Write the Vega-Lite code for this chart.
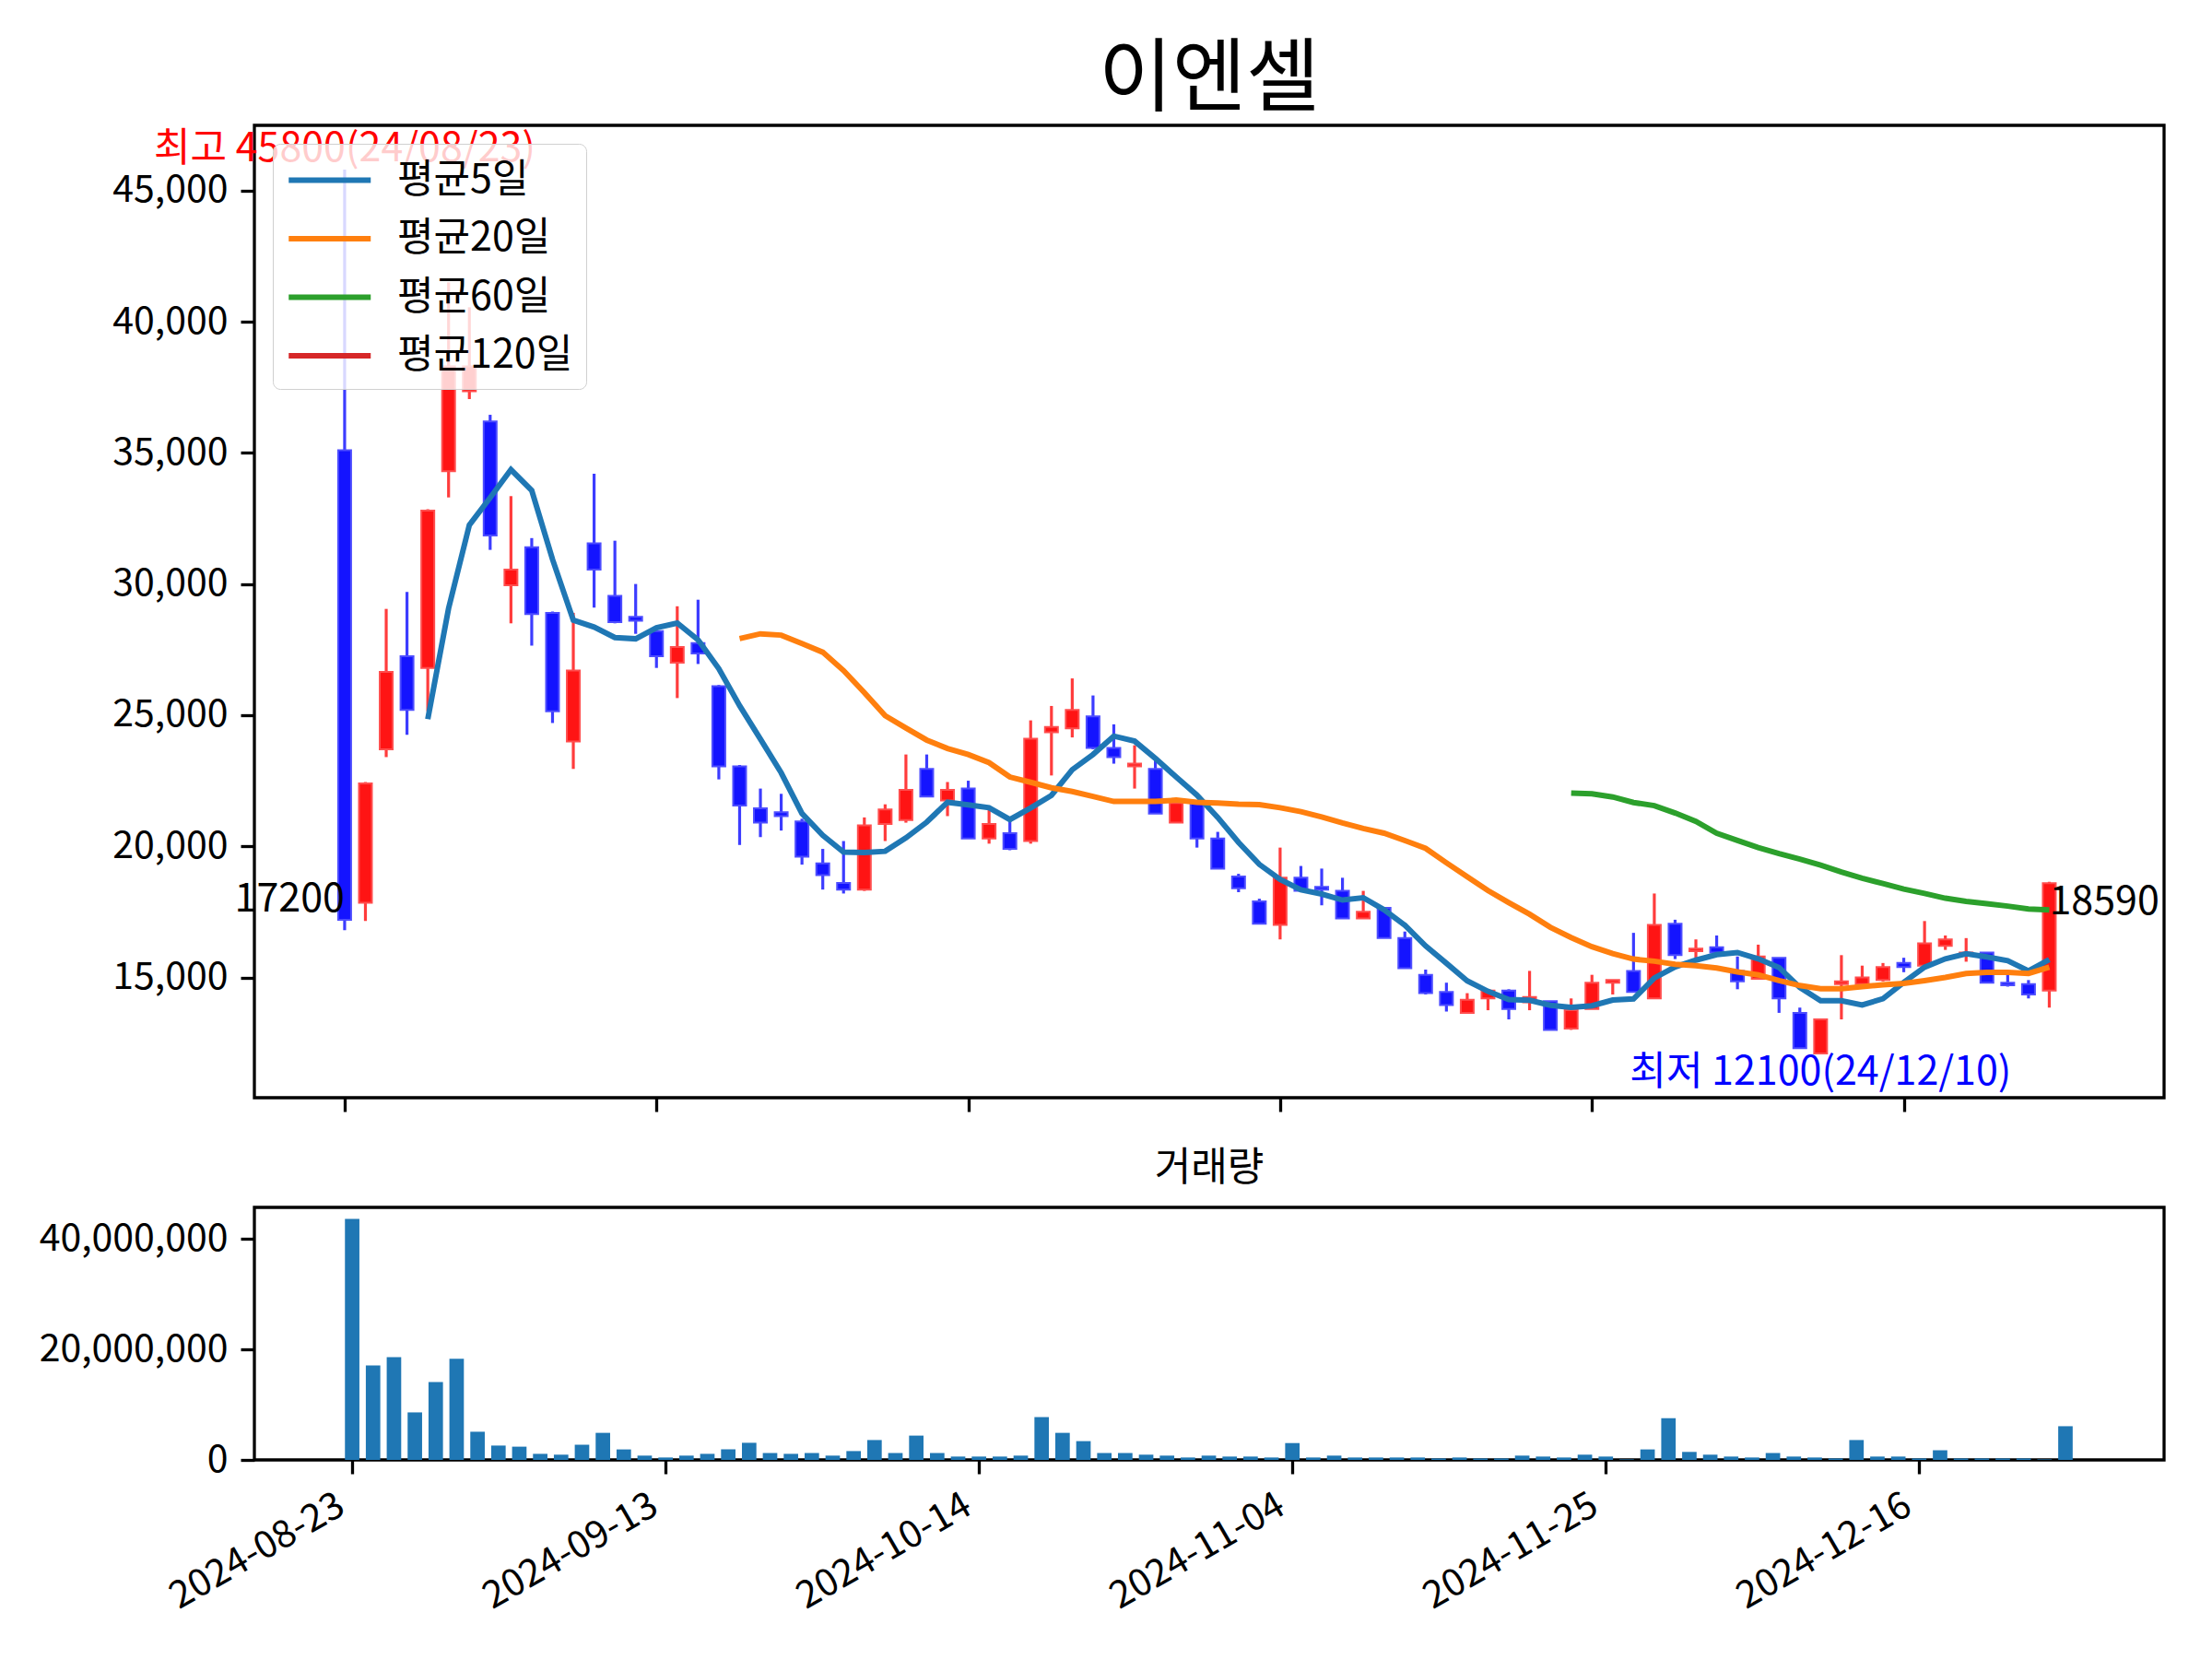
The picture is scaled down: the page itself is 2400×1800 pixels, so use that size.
{
  "$schema": "https://vega.github.io/schema/vega-lite/v6.json",
  "background": "white",
  "padding": {"left": 40, "top": 42, "right": 20, "bottom": 20},
  "config": {
    "font": "Noto Sans CJK KR",
    "view": {"stroke": "black", "strokeWidth": 3.3},
    "axis": {
      "domain": false,
      "grid": false,
      "tickColor": "black",
      "tickSize": 15,
      "tickWidth": 3.3,
      "labelFont": "Noto Sans CJK KR",
      "labelFontSize": 41,
      "labelColor": "black",
      "labelPadding": 14,
      "labelLimit": 500
    },
    "title": {"font": "Noto Sans CJK KR", "fontWeight": "normal", "color": "black", "anchor": "middle", "frame": "group", "baseline": "alphabetic"}
  },
  "datasets": {
    "ohlc": [
      {"i":0,"date":"2024-08-23","open":35100,"high":45800,"low":16800,"close":17200,"volume":43600000,"ma5":null,"ma20":null,"ma60":null},
      {"i":1,"date":"2024-08-26","open":17850,"high":22450,"low":17150,"close":22400,"volume":17100000,"ma5":null,"ma20":null,"ma60":null},
      {"i":2,"date":"2024-08-27","open":23700,"high":29050,"low":23400,"close":26650,"volume":18600000,"ma5":null,"ma20":null,"ma60":null},
      {"i":3,"date":"2024-08-28","open":27250,"high":29700,"low":24250,"close":25200,"volume":8600000,"ma5":null,"ma20":null,"ma60":null},
      {"i":4,"date":"2024-08-29","open":26800,"high":32850,"low":25150,"close":32800,"volume":14100000,"ma5":24850,"ma20":null,"ma60":null},
      {"i":5,"date":"2024-08-30","open":34300,"high":41500,"low":33300,"close":38300,"volume":18300000,"ma5":29070,"ma20":null,"ma60":null},
      {"i":6,"date":"2024-09-02","open":37350,"high":40550,"low":37050,"close":38300,"volume":5100000,"ma5":32250,"ma20":null,"ma60":null},
      {"i":7,"date":"2024-09-03","open":36200,"high":36450,"low":31300,"close":31850,"volume":2600000,"ma5":33290,"ma20":null,"ma60":null},
      {"i":8,"date":"2024-09-04","open":29950,"high":33350,"low":28500,"close":30550,"volume":2400000,"ma5":34360,"ma20":null,"ma60":null},
      {"i":9,"date":"2024-09-05","open":31400,"high":31750,"low":27650,"close":28850,"volume":1100000,"ma5":33570,"ma20":null,"ma60":null},
      {"i":10,"date":"2024-09-06","open":28900,"high":28950,"low":24700,"close":25150,"volume":950000,"ma5":30940,"ma20":null,"ma60":null},
      {"i":11,"date":"2024-09-09","open":24000,"high":28900,"low":22950,"close":26700,"volume":2750000,"ma5":28620,"ma20":null,"ma60":null},
      {"i":12,"date":"2024-09-10","open":31550,"high":34200,"low":29100,"close":30550,"volume":4900000,"ma5":28360,"ma20":null,"ma60":null},
      {"i":13,"date":"2024-09-11","open":29550,"high":31650,"low":28500,"close":28550,"volume":1900000,"ma5":27960,"ma20":null,"ma60":null},
      {"i":14,"date":"2024-09-12","open":28750,"high":30000,"low":28100,"close":28600,"volume":780000,"ma5":27910,"ma20":null,"ma60":null},
      {"i":15,"date":"2024-09-13","open":28200,"high":28250,"low":26800,"close":27250,"volume":440000,"ma5":28330,"ma20":null,"ma60":null},
      {"i":16,"date":"2024-09-19","open":27000,"high":29150,"low":25650,"close":27600,"volume":780000,"ma5":28510,"ma20":null,"ma60":null},
      {"i":17,"date":"2024-09-20","open":27750,"high":29400,"low":26950,"close":27350,"volume":1100000,"ma5":27870,"ma20":null,"ma60":null},
      {"i":18,"date":"2024-09-23","open":26100,"high":26150,"low":22550,"close":23050,"volume":1900000,"ma5":26770,"ma20":null,"ma60":null},
      {"i":19,"date":"2024-09-24","open":23050,"high":23100,"low":20050,"close":21550,"volume":3100000,"ma5":25360,"ma20":27920,"ma60":null},
      {"i":20,"date":"2024-09-25","open":21450,"high":22200,"low":20350,"close":20900,"volume":1250000,"ma5":24090,"ma20":28100,"ma60":null},
      {"i":21,"date":"2024-09-26","open":21300,"high":22000,"low":20600,"close":21150,"volume":1100000,"ma5":22800,"ma20":28050,"ma60":null},
      {"i":22,"date":"2024-09-27","open":20950,"high":21050,"low":19300,"close":19600,"volume":1250000,"ma5":21250,"ma20":27730,"ma60":null},
      {"i":23,"date":"2024-09-30","open":19350,"high":19900,"low":18350,"close":18900,"volume":780000,"ma5":20420,"ma20":27400,"ma60":null},
      {"i":24,"date":"2024-10-02","open":18600,"high":20200,"low":18200,"close":18350,"volume":1600000,"ma5":19780,"ma20":26700,"ma60":null},
      {"i":25,"date":"2024-10-04","open":18350,"high":21100,"low":18300,"close":20800,"volume":3600000,"ma5":19760,"ma20":25860,"ma60":null},
      {"i":26,"date":"2024-10-07","open":20850,"high":21600,"low":20200,"close":21400,"volume":1250000,"ma5":19810,"ma20":24980,"ma60":null},
      {"i":27,"date":"2024-10-08","open":21000,"high":23500,"low":20900,"close":22150,"volume":4400000,"ma5":20320,"ma20":24510,"ma60":null},
      {"i":28,"date":"2024-10-10","open":22950,"high":23500,"low":21900,"close":21900,"volume":1250000,"ma5":20920,"ma20":24050,"ma60":null},
      {"i":29,"date":"2024-10-11","open":21750,"high":22450,"low":21150,"close":22150,"volume":610000,"ma5":21680,"ma20":23730,"ma60":null},
      {"i":30,"date":"2024-10-14","open":22200,"high":22500,"low":20300,"close":20300,"volume":610000,"ma5":21580,"ma20":23500,"ma60":null},
      {"i":31,"date":"2024-10-15","open":20300,"high":21400,"low":20100,"close":20850,"volume":610000,"ma5":21470,"ma20":23190,"ma60":null},
      {"i":32,"date":"2024-10-16","open":20500,"high":20950,"low":19850,"close":19900,"volume":780000,"ma5":21020,"ma20":22640,"ma60":null},
      {"i":33,"date":"2024-10-17","open":20200,"high":24800,"low":20100,"close":24100,"volume":7750000,"ma5":21460,"ma20":22440,"ma60":null},
      {"i":34,"date":"2024-10-18","open":24350,"high":25350,"low":22700,"close":24550,"volume":4900000,"ma5":21940,"ma20":22230,"ma60":null},
      {"i":35,"date":"2024-10-21","open":24500,"high":26400,"low":24150,"close":25200,"volume":3400000,"ma5":22920,"ma20":22090,"ma60":null},
      {"i":36,"date":"2024-10-22","open":24950,"high":25750,"low":23700,"close":23750,"volume":1250000,"ma5":23500,"ma20":21900,"ma60":null},
      {"i":37,"date":"2024-10-23","open":23750,"high":24650,"low":23150,"close":23400,"volume":1250000,"ma5":24200,"ma20":21710,"ma60":null},
      {"i":38,"date":"2024-10-24","open":23050,"high":23850,"low":22200,"close":23150,"volume":950000,"ma5":24010,"ma20":21710,"ma60":null},
      {"i":39,"date":"2024-10-25","open":22950,"high":23300,"low":21250,"close":21250,"volume":780000,"ma5":23350,"ma20":21710,"ma60":null},
      {"i":40,"date":"2024-10-28","open":20900,"high":21800,"low":20900,"close":21650,"volume":440000,"ma5":22640,"ma20":21760,"ma60":null},
      {"i":41,"date":"2024-10-29","open":21650,"high":21650,"low":19950,"close":20300,"volume":780000,"ma5":21950,"ma20":21680,"ma60":null},
      {"i":42,"date":"2024-10-30","open":20300,"high":20550,"low":19150,"close":19150,"volume":610000,"ma5":21100,"ma20":21650,"ma60":null},
      {"i":43,"date":"2024-10-31","open":18850,"high":18950,"low":18250,"close":18400,"volume":610000,"ma5":20150,"ma20":21610,"ma60":null},
      {"i":44,"date":"2024-11-01","open":17900,"high":18000,"low":17050,"close":17050,"volume":440000,"ma5":19310,"ma20":21590,"ma60":null},
      {"i":45,"date":"2024-11-04","open":17000,"high":19950,"low":16450,"close":18800,"volume":3050000,"ma5":18740,"ma20":21470,"ma60":null},
      {"i":46,"date":"2024-11-05","open":18800,"high":19250,"low":18300,"close":18300,"volume":440000,"ma5":18340,"ma20":21320,"ma60":null},
      {"i":47,"date":"2024-11-06","open":18450,"high":19150,"low":17750,"close":18350,"volume":780000,"ma5":18180,"ma20":21120,"ma60":null},
      {"i":48,"date":"2024-11-07","open":18300,"high":18800,"low":17250,"close":17250,"volume":440000,"ma5":17950,"ma20":20890,"ma60":null},
      {"i":49,"date":"2024-11-08","open":17250,"high":18300,"low":17250,"close":17500,"volume":440000,"ma5":18040,"ma20":20680,"ma60":null},
      {"i":50,"date":"2024-11-11","open":17650,"high":17650,"low":16500,"close":16500,"volume":440000,"ma5":17580,"ma20":20500,"ma60":null},
      {"i":51,"date":"2024-11-12","open":16500,"high":16750,"low":15350,"close":15350,"volume":440000,"ma5":16990,"ma20":20220,"ma60":null},
      {"i":52,"date":"2024-11-13","open":15100,"high":15300,"low":14350,"close":14400,"volume":270000,"ma5":16200,"ma20":19920,"ma60":null},
      {"i":53,"date":"2024-11-14","open":14450,"high":14800,"low":13700,"close":13950,"volume":440000,"ma5":15540,"ma20":19370,"ma60":null},
      {"i":54,"date":"2024-11-15","open":13650,"high":14400,"low":13650,"close":14150,"volume":270000,"ma5":14870,"ma20":18840,"ma60":null},
      {"i":55,"date":"2024-11-18","open":14200,"high":14500,"low":13750,"close":14500,"volume":270000,"ma5":14470,"ma20":18310,"ma60":null},
      {"i":56,"date":"2024-11-19","open":14500,"high":14550,"low":13400,"close":13800,"volume":780000,"ma5":14160,"ma20":17850,"ma60":null},
      {"i":57,"date":"2024-11-20","open":14050,"high":15250,"low":13750,"close":14250,"volume":610000,"ma5":14130,"ma20":17410,"ma60":null},
      {"i":58,"date":"2024-11-21","open":14100,"high":14100,"low":13000,"close":13000,"volume":440000,"ma5":13940,"ma20":16910,"ma60":null},
      {"i":59,"date":"2024-11-22","open":13050,"high":14200,"low":13000,"close":13750,"volume":950000,"ma5":13860,"ma20":16520,"ma60":22030},
      {"i":60,"date":"2024-11-25","open":13800,"high":15100,"low":13800,"close":14800,"volume":610000,"ma5":13920,"ma20":16170,"ma60":22000},
      {"i":61,"date":"2024-11-26","open":14800,"high":14900,"low":14350,"close":14900,"volume":100000,"ma5":14140,"ma20":15910,"ma60":21880},
      {"i":62,"date":"2024-11-27","open":15250,"high":16700,"low":14450,"close":14450,"volume":1900000,"ma5":14180,"ma20":15700,"ma60":21670},
      {"i":63,"date":"2024-11-28","open":14200,"high":18200,"low":14200,"close":17000,"volume":7550000,"ma5":14980,"ma20":15620,"ma60":21550},
      {"i":64,"date":"2024-11-29","open":17050,"high":17200,"low":15700,"close":15850,"volume":1450000,"ma5":15400,"ma20":15500,"ma60":21270},
      {"i":65,"date":"2024-12-02","open":16000,"high":16450,"low":15750,"close":16100,"volume":950000,"ma5":15660,"ma20":15450,"ma60":20950},
      {"i":66,"date":"2024-12-03","open":16150,"high":16600,"low":15950,"close":15950,"volume":610000,"ma5":15870,"ma20":15360,"ma60":20500},
      {"i":67,"date":"2024-12-04","open":15250,"high":15800,"low":14550,"close":14850,"volume":440000,"ma5":15950,"ma20":15210,"ma60":20220},
      {"i":68,"date":"2024-12-05","open":14950,"high":16250,"low":14950,"close":15800,"volume":1250000,"ma5":15710,"ma20":15100,"ma60":19950},
      {"i":69,"date":"2024-12-06","open":15750,"high":15750,"low":13650,"close":14200,"volume":610000,"ma5":15380,"ma20":14880,"ma60":19720},
      {"i":70,"date":"2024-12-09","open":13650,"high":13850,"low":12300,"close":12300,"volume":440000,"ma5":14620,"ma20":14690,"ma60":19510},
      {"i":71,"date":"2024-12-10","open":12100,"high":13400,"low":12100,"close":13400,"volume":270000,"ma5":14110,"ma20":14570,"ma60":19280},
      {"i":72,"date":"2024-12-11","open":14750,"high":15850,"low":13400,"close":14850,"volume":3600000,"ma5":14110,"ma20":14570,"ma60":19020},
      {"i":73,"date":"2024-12-12","open":14750,"high":15450,"low":14750,"close":15000,"volume":610000,"ma5":13950,"ma20":14650,"ma60":18780},
      {"i":74,"date":"2024-12-13","open":14900,"high":15550,"low":14850,"close":15400,"volume":610000,"ma5":14190,"ma20":14720,"ma60":18580},
      {"i":75,"date":"2024-12-16","open":15550,"high":15750,"low":15200,"close":15400,"volume":270000,"ma5":14810,"ma20":14770,"ma60":18370},
      {"i":76,"date":"2024-12-17","open":15450,"high":17150,"low":15450,"close":16300,"volume":1750000,"ma5":15390,"ma20":14880,"ma60":18200},
      {"i":77,"date":"2024-12-18","open":16200,"high":16600,"low":16050,"close":16450,"volume":270000,"ma5":15710,"ma20":15000,"ma60":18020},
      {"i":78,"date":"2024-12-19","open":15850,"high":16500,"low":15600,"close":15950,"volume":270000,"ma5":15900,"ma20":15150,"ma60":17900},
      {"i":79,"date":"2024-12-20","open":15950,"high":15950,"low":14800,"close":14800,"volume":270000,"ma5":15780,"ma20":15190,"ma60":17810},
      {"i":80,"date":"2024-12-23","open":14800,"high":15250,"low":14650,"close":14700,"volume":270000,"ma5":15640,"ma20":15190,"ma60":17720},
      {"i":81,"date":"2024-12-24","open":14750,"high":14900,"low":14200,"close":14350,"volume":100000,"ma5":15250,"ma20":15150,"ma60":17610},
      {"i":82,"date":"2024-12-26","open":14500,"high":18650,"low":13850,"close":18590,"volume":6100000,"ma5":15680,"ma20":15390,"ma60":17575}
    ],
    "notes": [
      {"i":0,"price":45800,"label":"최고 45800(24/08/23)","kind":"high"},
      {"i":71,"price":12100,"label":"최저 12100(24/12/10)","kind":"low"},
      {"i":0,"price":17200,"label":"17200","kind":"first"},
      {"i":82,"price":18590,"label":"18590","kind":"last"}
    ]
  },
  "spacing": 35,
  "vconcat": [
    {
      "width": 2072,
      "height": 1055,
      "title": {"text": "이엔셀", "fontSize": 87, "offset": 4},
      "data": {"name": "ohlc"},
      "encoding": {
        "x": {
          "field": "i",
          "type": "quantitative",
          "scale": {"domain": [-4.12, 87.3], "nice": false, "zero": false},
          "axis": {"values": [0, 15, 30, 45, 60, 75], "labels": false, "title": null}
        }
      },
      "layer": [
        {
          "mark": {"type": "rule", "strokeWidth": 3.2},
          "encoding": {
            "y": {
              "field": "low",
              "type": "quantitative",
              "scale": {"domain": [10415, 47485], "nice": false, "zero": false},
              "axis": {"values": [15000, 20000, 25000, 30000, 35000, 40000, 45000], "format": ",d", "title": null}
            },
            "y2": {"field": "high"},
            "color": {"condition": {"test": "datum.close >= datum.open", "value": "#ff3c3c"}, "value": "#3c3cff"}
          }
        },
        {
          "mark": {"type": "bar", "size": 14, "strokeWidth": 2},
          "encoding": {
            "y": {"field": "open", "type": "quantitative"},
            "y2": {"field": "close"},
            "fill": {"condition": {"test": "datum.close >= datum.open", "value": "#ff1414"}, "value": "#1414ff"},
            "stroke": {"condition": {"test": "datum.close >= datum.open", "value": "#ff4d4d"}, "value": "#4d4dff"}
          }
        },
        {
          "transform": [
            {"fold": ["ma5", "ma20", "ma60"], "as": ["series", "ma"]},
            {"filter": "isValid(datum.ma)"}
          ],
          "mark": {"type": "line", "strokeWidth": 6},
          "encoding": {
            "y": {"field": "ma", "type": "quantitative"},
            "color": {
              "field": "series",
              "type": "nominal",
              "scale": {"domain": ["ma5", "ma20", "ma60", "ma120"], "range": ["#1f77b4", "#ff7f0e", "#2ca02c", "#d62728"]},
              "legend": {
                "orient": "top-left",
                "offset": 20,
                "title": null,
                "symbolType": "M-1,0H3",
                "symbolSize": 1980,
                "symbolStrokeWidth": 6,
                "labelFontSize": 43,
                "labelColor": "black",
                "labelLimit": 400,
                "labelOffset": 70,
                "padding": 14,
                "rowPadding": 15.5,
                "fillColor": "rgba(255,255,255,0.8)",
                "strokeColor": "#d0d0d0",
                "cornerRadius": 8,
                "labelExpr": "datum.label == 'ma5' ? '평균5일' : datum.label == 'ma20' ? '평균20일' : datum.label == 'ma60' ? '평균60일' : '평균120일'"
              }
            }
          }
        },
        {
          "data": {"name": "notes"},
          "transform": [{"filter": "datum.kind == 'high'"}],
          "mark": {"type": "text", "color": "red", "fontSize": 43, "align": "center", "baseline": "bottom"},
          "encoding": {"y": {"field": "price", "type": "quantitative"}, "text": {"field": "label"}}
        },
        {
          "data": {"name": "notes"},
          "transform": [{"filter": "datum.kind == 'low'"}],
          "mark": {"type": "text", "color": "blue", "fontSize": 43, "align": "center", "baseline": "top"},
          "encoding": {"y": {"field": "price", "type": "quantitative"}, "text": {"field": "label"}}
        },
        {
          "data": {"name": "notes"},
          "transform": [{"filter": "datum.kind == 'first'"}],
          "mark": {"type": "text", "color": "black", "fontSize": 43, "align": "right", "baseline": "bottom"},
          "encoding": {"y": {"field": "price", "type": "quantitative"}, "text": {"field": "label"}}
        },
        {
          "data": {"name": "notes"},
          "transform": [{"filter": "datum.kind == 'last'"}],
          "mark": {"type": "text", "color": "black", "fontSize": 43, "align": "left", "baseline": "top"},
          "encoding": {"y": {"field": "price", "type": "quantitative"}, "text": {"field": "label"}}
        }
      ]
    },
    {
      "width": 2072,
      "height": 274,
      "title": {"text": "거래량", "fontSize": 43, "offset": 20},
      "data": {"name": "ohlc"},
      "mark": {"type": "bar", "size": 15.7, "color": "#1f77b4"},
      "encoding": {
        "x": {
          "field": "i",
          "type": "quantitative",
          "scale": {"domain": [-4.46, 86.5], "nice": false, "zero": false},
          "axis": {
            "values": [0, 15, 30, 45, 60, 75],
            "title": null,
            "labelAngle": -30,
            "labelAlign": "right",
            "labelBaseline": "top",
            "labelOffset": -22,
            "labelExpr": "datum.value == 0 ? '2024-08-23' : datum.value == 15 ? '2024-09-13' : datum.value == 30 ? '2024-10-14' : datum.value == 45 ? '2024-11-04' : datum.value == 60 ? '2024-11-25' : '2024-12-16'"
          }
        },
        "y": {
          "field": "volume",
          "type": "quantitative",
          "scale": {"domain": [0, 45700000], "nice": false},
          "axis": {"values": [0, 20000000, 40000000], "format": ",d", "title": null}
        }
      }
    }
  ]
}
